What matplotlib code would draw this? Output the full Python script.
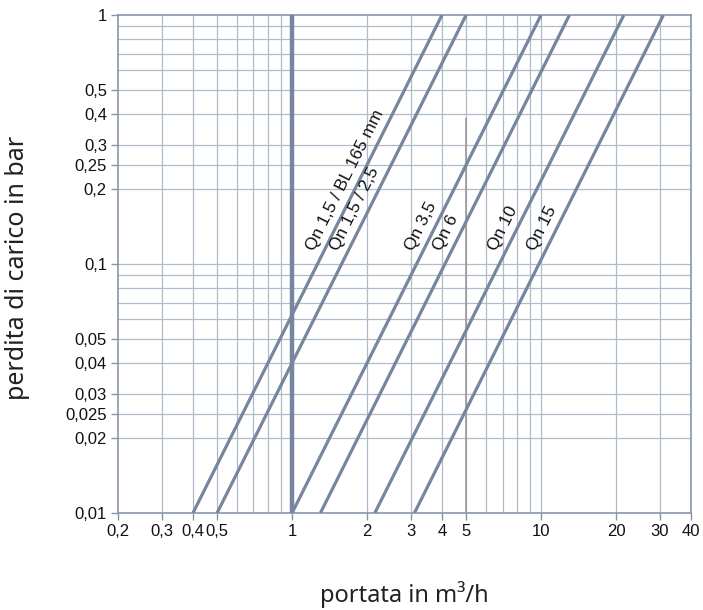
import math
import matplotlib
matplotlib.use('Agg')
import matplotlib.pyplot as plt
from matplotlib.ticker import FixedLocator, NullFormatter, NullLocator

# flow (m3/h) at 0.01 bar and at 1 bar for each meter
q_low = [0.4, 0.5, 1.0, 1.3, 2.15, 3.1]
q_high = [4.0, 5.0, 10.0, 13.0, 21.5, 31.0]
labels = ['Qn 1,5 / BL 165 mm', 'Qn 1,5 / 2,5', 'Qn 3,5', 'Qn 6', 'Qn 10', 'Qn 15']
dp_ends = [0.01, 1.0]
label_dp = 0.108

x_ticks = [0.2, 0.3, 0.4, 0.5, 1, 2, 3, 4, 5, 10, 20, 30, 40]
x_ticklabels = ['0,2', '0,3', '0,4', '0,5', '1', '2', '3', '4', '5', '10', '20', '30', '40']
x_grid = [0.3, 0.4, 0.5, 0.6, 0.7, 0.8, 0.9, 2, 3, 4, 5, 6, 7, 8, 9, 10, 20, 30]
y_ticks = [0.01, 0.02, 0.025, 0.03, 0.04, 0.05, 0.1, 0.2, 0.25, 0.3, 0.4, 0.5, 1]
y_ticklabels = ['0,01', '0,02', '0,025', '0,03', '0,04', '0,05', '0,1', '0,2', '0,25',
                '0,3', '0,4', '0,5', '1']
y_grid = [0.02, 0.025, 0.03, 0.04, 0.05, 0.06, 0.07, 0.08, 0.09, 0.1,
          0.2, 0.25, 0.3, 0.4, 0.5, 0.6, 0.7, 0.8, 0.9]

line_col = '#76869e'
grid_col = '#afbacb'
frame_col = '#8795ab'

fig = plt.figure(figsize=(7.03, 6.1), dpi=100)
ax = fig.add_axes([118 / 703, 97 / 610, 573 / 703, 498 / 610])
ax.set_xscale('log')
ax.set_yscale('log')
ax.set_xlim(0.2, 40)
ax.set_ylim(0.01, 1)

for g in x_grid:
    ax.axvline(g, color=grid_col, lw=0.9, zorder=1)
for g in y_grid:
    ax.axhline(g, color=grid_col, lw=0.9, zorder=1)

# darker marks
ax.axvline(1, color=line_col, lw=3.2, zorder=3)
ax.vlines(5, 0.01, 0.385, color='#9a9a9a', lw=1.2, zorder=2)

for lo, hi in zip(q_low, q_high):
    ax.plot([lo, hi], dp_ends, color=line_col, lw=2.3, solid_capstyle='butt', zorder=4)

ax.xaxis.set_major_locator(FixedLocator(x_ticks))
ax.xaxis.set_minor_locator(NullLocator())
ax.xaxis.set_minor_formatter(NullFormatter())
ax.set_xticklabels(x_ticklabels)
ax.yaxis.set_major_locator(FixedLocator(y_ticks))
ax.yaxis.set_minor_locator(NullLocator())
ax.yaxis.set_minor_formatter(NullFormatter())
ax.set_yticklabels(y_ticklabels)

ax.tick_params(axis='both', length=5, width=1, color=frame_col, labelsize=12,
               labelcolor='#111111', pad=3)
for lab in ax.get_xticklabels() + ax.get_yticklabels():
    lab.set_family('Liberation Sans')
for s in ax.spines.values():
    s.set_color(frame_col)
    s.set_linewidth(1.2)

# labels along the lines
for lo, hi, txt in zip(q_low, q_high, labels):
    p1 = ax.transData.transform((lo, dp_ends[0]))
    p2 = ax.transData.transform((hi, dp_ends[1]))
    ang = math.degrees(math.atan2(p2[1] - p1[1], p2[0] - p1[0]))
    q = lo * math.sqrt(label_dp / dp_ends[0])
    d = 4
    ox = -math.sin(math.radians(ang)) * d
    oy = math.cos(math.radians(ang)) * d
    ax.annotate(txt, xy=(q, label_dp), xytext=(ox, oy), textcoords='offset points',
                rotation=ang, rotation_mode='anchor', ha='left', va='bottom',
                fontsize=12.5, family='Liberation Sans', color='#111111', zorder=5)

fig.text(18 / 703, 1 - 268 / 610, 'perdita di carico in bar', rotation=90,
         ha='center', va='center', fontsize=18, family='Noto Sans', color='#222222')
fig.text(404 / 703, 1 - 595 / 610, 'portata in m³/h', ha='center', va='center',
         fontsize=17, family='Noto Sans', color='#222222')

fig.savefig('out.png', dpi=100)
